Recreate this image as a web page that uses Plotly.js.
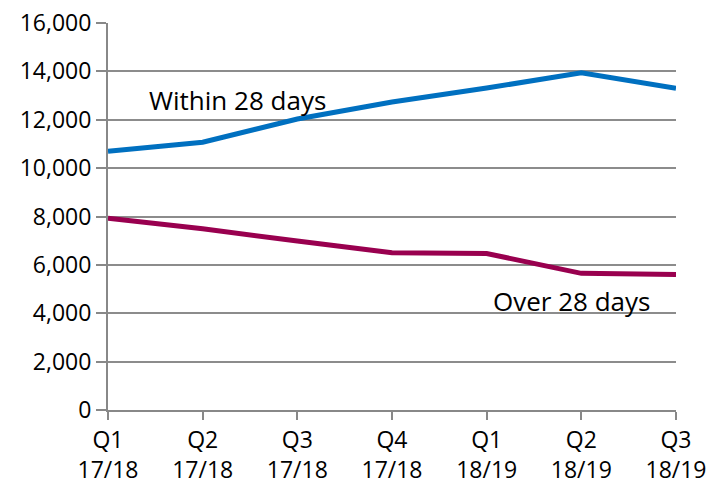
<!DOCTYPE html>
<html>
<head>
<meta charset="utf-8">
<script src="https://cdn.plot.ly/plotly-3.0.1.min.js"></script>
<style>html,body{margin:0;padding:0;background:#fff;}#chart{width:709px;height:490px;}</style>
</head>
<body>
<div id="chart"></div>
<script>
const categories = ["Q1<br>17/18","Q2<br>17/18","Q3<br>17/18","Q4<br>17/18","Q1<br>18/19","Q2<br>18/19","Q3<br>18/19"];
const within28 = [10700, 11070, 12030, 12730, 13310, 13940, 13300];
const over28 = [7930, 7490, 6990, 6500, 6470, 5650, 5600];
const yTicks = [0,2000,4000,6000,8000,10000,12000,14000,16000];
const yTickText = yTicks.map(v => v.toLocaleString('en-US'));

const font = "'Open Sans', sans-serif";
const traces = [
  {x: categories, y: within28, type: 'scatter', mode: 'lines', line: {color: '#0070C0', width: 5}, name: 'Within 28 days', hoverinfo: 'skip'},
  {x: categories, y: over28, type: 'scatter', mode: 'lines', line: {color: '#99004F', width: 5}, name: 'Over 28 days', hoverinfo: 'skip'}
];
const layout = {
  width: 709, height: 490,
  margin: {l: 108, r: 33, t: 23, b: 80},
  paper_bgcolor: '#fff', plot_bgcolor: '#fff',
  showlegend: false,
  font: {family: font, size: 23, color: '#000'},
  xaxis: {
    type: 'category', range: [0, 6],
    showgrid: false, showline: true, linecolor: '#888', linewidth: 2,
    ticks: 'outside', ticklen: 8, tickcolor: '#888', tickwidth: 2,
    tickfont: {family: font, size: 23}, zeroline: false, fixedrange: true
  },
  yaxis: {
    range: [0, 16000], tickvals: yTicks, ticktext: yTickText,
    showgrid: true, gridcolor: '#8c8c8c', gridwidth: 2,
    showline: true, linecolor: '#888', linewidth: 2,
    ticks: 'outside', ticklen: 10, tickcolor: '#888', tickwidth: 2,
    tickfont: {family: font, size: 23}, zeroline: false, fixedrange: true
  },
  annotations: [
    {x: 0.41, y: 12800, xref: 'x', yref: 'y', text: 'Within 28 days', showarrow: false, xanchor: 'left', font: {family: font, size: 26, color: '#000'}},
    {x: 4.05, y: 4520, xref: 'x', yref: 'y', text: 'Over 28 days', showarrow: false, xanchor: 'left', font: {family: font, size: 26, color: '#000'}}
  ]
};
Plotly.newPlot('chart', traces, layout, {displayModeBar: false, staticPlot: true});
</script>
</body>
</html>
